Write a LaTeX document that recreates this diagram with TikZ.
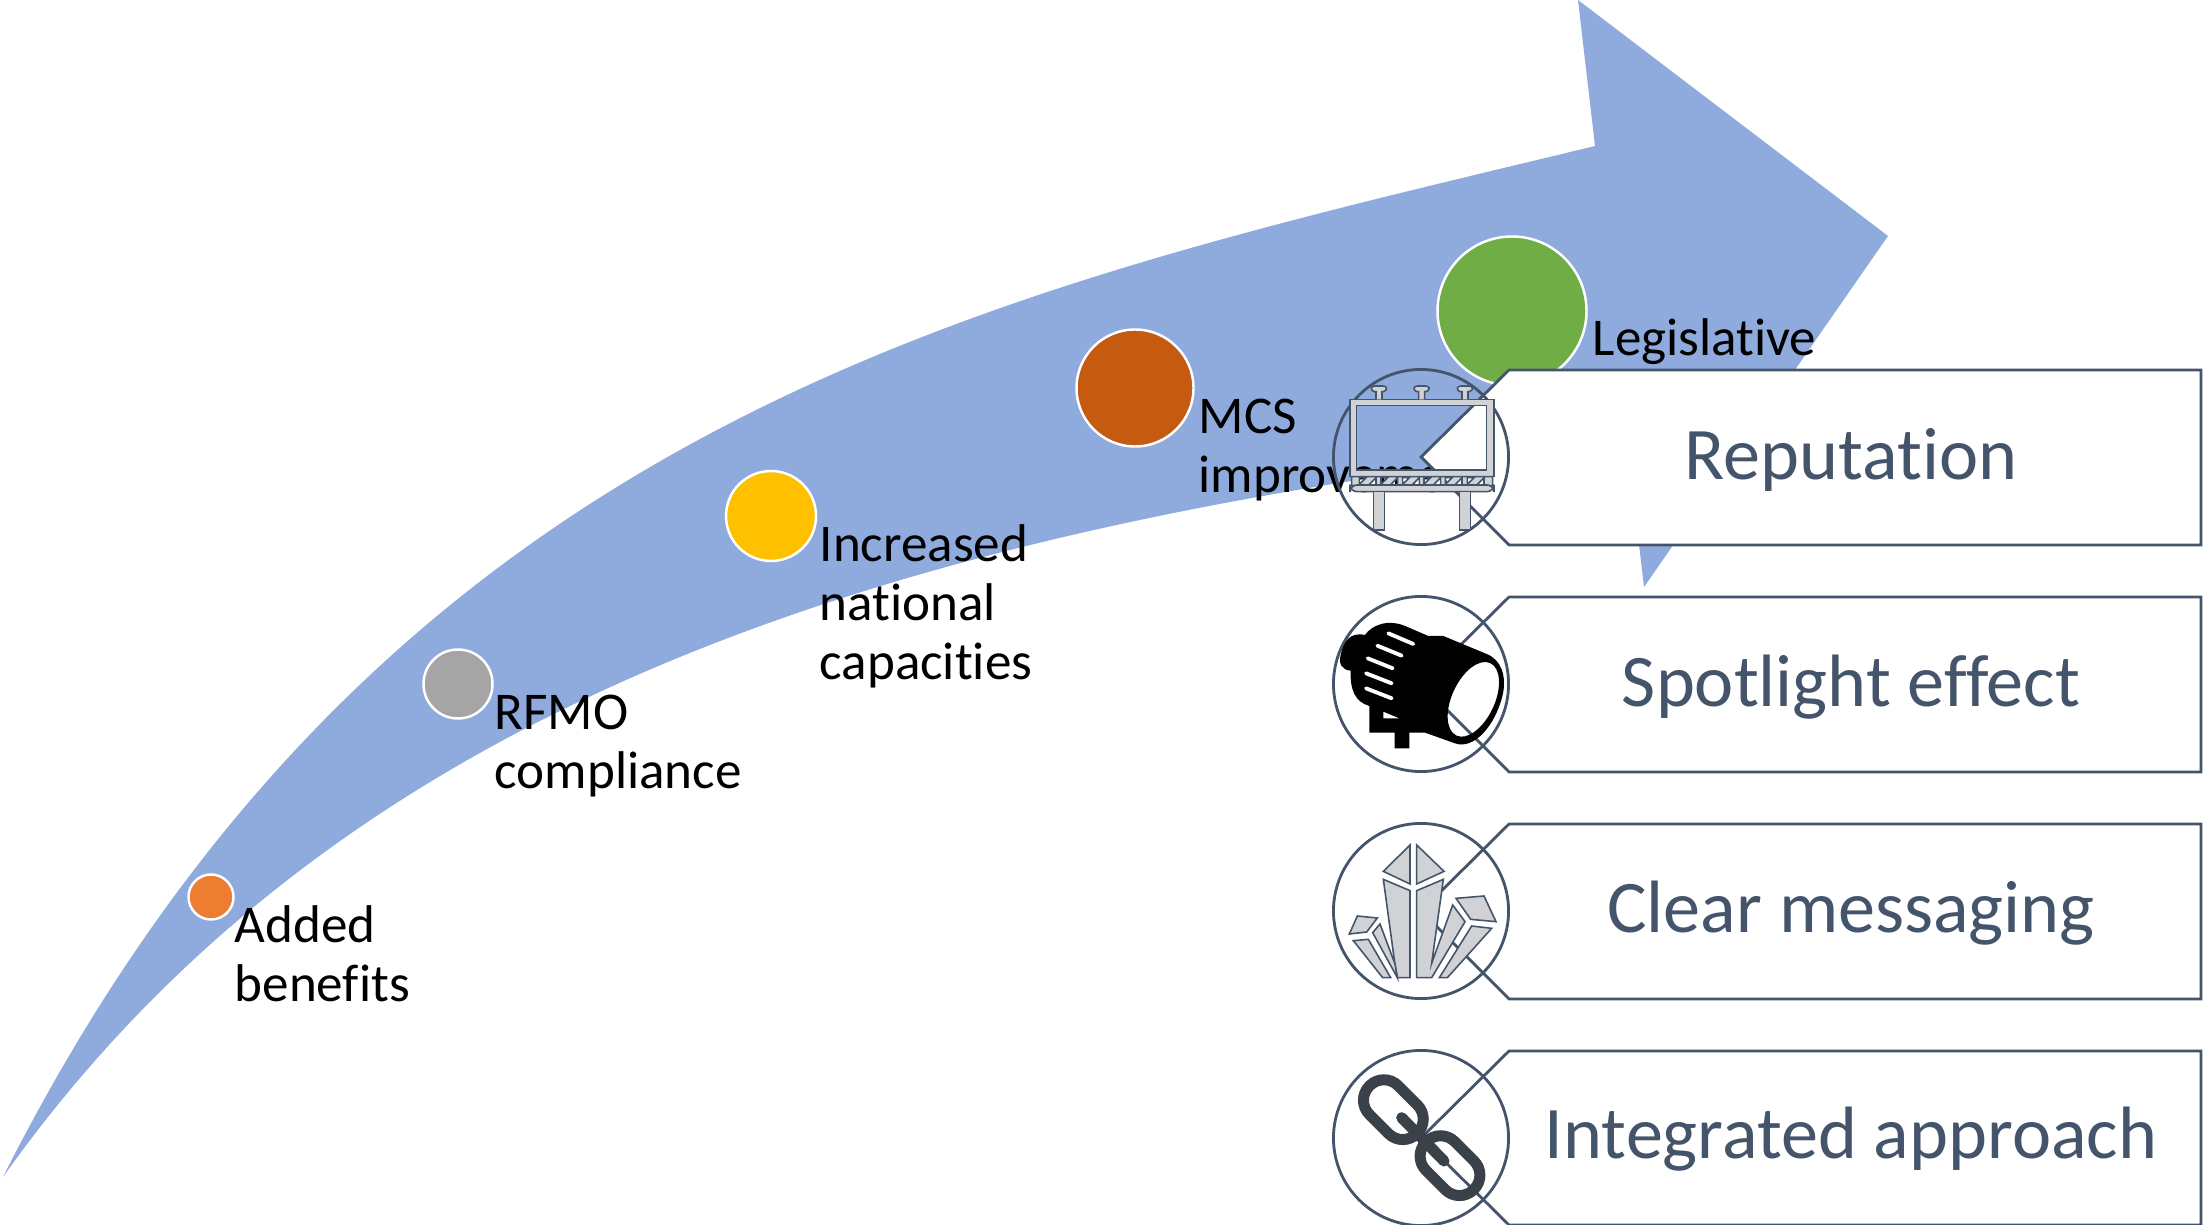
\documentclass[tikz,border=0pt]{standalone}
\usepackage{fontspec}
\setmainfont[Ligatures=CommonOff]{Carlito}
\definecolor{arrowblue}{HTML}{8FAADC}
\definecolor{slate}{HTML}{44546A}
\definecolor{iconfill}{HTML}{D0D2D6}
\definecolor{linkdark}{HTML}{3B4149}
\definecolor{dotorange}{HTML}{ED7D31}
\definecolor{dotgray}{HTML}{A5A5A5}
\definecolor{dotyellow}{HTML}{FFC000}
\definecolor{dotrust}{HTML}{C55A11}
\definecolor{dotgreen}{HTML}{70AD47}
\tikzset{
  dot/.style={circle, draw=white, line width=0.7pt, minimum size=#1*0.01cm, inner sep=0pt},
  steplabel/.style={align=left, anchor=north west, font=\fontsize{15.1}{16.8}\selectfont, inner sep=0pt},
  callout/.style={draw=slate, fill=white, line width=0.8pt, line join=miter},
  ring/.style={circle, draw=slate, line width=0.8pt, minimum size=1.75cm, inner sep=0pt},
  calloutlabel/.style={text=slate, font=\fontsize{21.1}{25}\selectfont},
  iconpart/.style={draw=slate, fill=iconfill, line width=0.45pt},
  iconarea/.style={x=0.01cm/3, y=-0.01cm/3},
}
\begin{document}
\begin{tikzpicture}[x=0.01cm, y=-0.01cm]
\useasboundingbox (0,0) rectangle (2203,1225);
\fill[arrowblue]
     (3,1177)
  .. controls (390,410) and (1000,290) .. (1595,146)
  -- (1578,0)
  -- (1888,236)
  -- (1644,587)
  -- (1627,443)
  .. controls (980,520) and (370,660) .. (3,1177)
  -- cycle;

\node[dot=45, fill=dotorange] (added) at (211,897) {};
\node[dot=69, fill=dotgray] (rfmo) at (458,684) {};
\node[dot=90, fill=dotyellow] (capacity) at (771,516) {};
\node[dot=117, fill=dotrust] (mcs) at (1135,388) {};
\node[dot=149, fill=dotgreen] (legal) at (1512,311) {};

\node[steplabel] (addedtext) at (234,905) {Added\\benefits};
\node[steplabel] (rfmotext) at (494,694) {RFMO\\compliance};
\node[steplabel] (capacitytext) at (819,524) {Increased\\national\\capacities};
\node[steplabel] (mcstext) at (1198,398) {MCS\\improvements};
\node[steplabel] (legaltext) at (1592,318) {Legislative};

\draw[callout] (1421,457) -- ++(88,-87) -- ++(692,0) -- ++(0,175) -- ++(-692,0) -- cycle;
\draw[callout] (1421,684) -- ++(88,-87) -- ++(692,0) -- ++(0,175) -- ++(-692,0) -- cycle;
\draw[callout] (1421,911) -- ++(88,-87) -- ++(692,0) -- ++(0,175) -- ++(-692,0) -- cycle;
\draw[callout] (1421,1138) -- ++(88,-87) -- ++(692,0) -- ++(0,174) -- ++(-692,0) -- cycle;

\node[calloutlabel] (reputation) at (1851,460) {Reputation};
\node[calloutlabel] (spotlight) at (1851,687) {Spotlight effect};
\node[calloutlabel] (messaging) at (1851,913) {Clear messaging};
\node[calloutlabel] (approach) at (1851,1139) {Integrated approach};

\node[ring] (ringa) at (1421,457) {};
\node[ring] (ringb) at (1421,684) {};
\node[ring] (ringc) at (1421,911) {};
\node[ring] (ringd) at (1421,1138) {};

% billboard
\begin{scope}[shift={(1300,340)}, iconarea]
\filldraw[iconpart, even odd rule]
  (150,178) rectangle (582,410) (170,197) rectangle (560,390);
\filldraw[iconpart]
  (228,178) -- (228,155) -- (222,155) .. controls (210,150) and (212,138) .. (225,138)
  -- (248,138) .. controls (262,138) and (264,150) .. (250,155) -- (246,155) -- (246,178);
\filldraw[iconpart]
  (356,178) -- (356,155) -- (350,155) .. controls (338,150) and (340,138) .. (353,138)
  -- (376,138) .. controls (390,138) and (392,150) .. (378,155) -- (374,155) -- (374,178);
\filldraw[iconpart]
  (486,178) -- (486,155) -- (480,155) .. controls (468,150) and (470,138) .. (483,138)
  -- (506,138) .. controls (520,138) and (522,150) .. (508,155) -- (504,155) -- (504,178);
\filldraw[iconpart, even odd rule]
  (155,410) rectangle (578,437)
  \foreach \tx in {178,243,308,372,436,502} {
    (\tx,413) -- ++(20,0) -- ++(-20,20) -- cycle
    (\tx+50,413) -- ++(0,22) -- ++(-22,0) -- cycle
  };
\filldraw[iconpart, rounded corners=2pt] (150,435) rectangle (582,455);
\filldraw[iconpart] (220,455) rectangle (254,570);
\filldraw[iconpart] (478,455) rectangle (512,570);
\end{scope}

% spotlight
\begin{scope}[shift={(1300,580)}, iconarea]
\fill[black, even odd rule]
  (195,165) .. controls (215,135) and (265,115) .. (320,140)
  -- (385,168) -- (430,168) -- (560,222)
  .. controls (605,240) and (620,290) .. (608,345)
  .. controls (585,440) and (520,510) .. (465,490)
  -- (375,458) -- (328,458) -- (328,505) -- (284,505) -- (284,458) -- (208,458) -- (208,378)
  .. controls (165,365) and (150,330) .. (152,272)
  .. controls (125,270) and (115,250) .. (122,225)
  .. controls (130,185) and (150,155) .. (195,165) -- cycle
  (520,358) ellipse [x radius=64, y radius=120, rotate=-25]
  (250,395) -- (250,415) -- (298,415) -- cycle;
\draw[white, line width=1.1pt, line cap=round] (265,160) -- (340,192);
\draw[white, line width=1.1pt, line cap=round] (232,197) -- (305,227);
\draw[white, line width=1.1pt, line cap=round] (203,235) -- (278,265);
\draw[white, line width=1.1pt, line cap=round] (198,280) -- (275,310);
\draw[white, line width=1.1pt, line cap=round] (198,325) -- (275,355);
\end{scope}

% crystals
\begin{scope}[shift={(1300,810)}, iconarea]
\filldraw[iconpart] (330,105) -- (330,222) -- (250,184) -- cycle;
\filldraw[iconpart] (350,105) -- (350,222) -- (432,184) -- cycle;
\filldraw[iconpart] (250,208) -- (330,242) -- (330,503) -- (292,503) -- (285,465) -- cycle;
\filldraw[iconpart] (350,242) -- (430,208) -- (395,460) -- (458,285) -- (495,335) -- (395,503) -- (350,503) -- cycle;
\filldraw[iconpart] (218,368) -- (240,342) -- (285,462) -- (292,503) -- cycle;
\filldraw[iconpart] (160,392) -- (205,388) -- (272,503) -- (248,503) -- cycle;
\filldraw[iconpart] (148,372) -- (172,318) -- (232,324) -- (200,366) -- cycle;
\filldraw[iconpart] (468,265) -- (552,258) -- (588,335) -- (512,328) -- cycle;
\filldraw[iconpart] (515,348) -- (575,355) -- (442,503) -- (418,503) -- cycle;
\end{scope}

% chain
\begin{scope}[shift={(1300,1035)}, iconarea]
\draw[linkdark, line width=0.11cm, rounded corners=0.2cm, rotate around={-45:(280,224)}]
  (179,163) rectangle (381,285);
\draw[linkdark, line width=0.11cm, rounded corners=0.2cm, rotate around={-45:(450,392)}]
  (349,331) rectangle (551,453);
\draw[linkdark, line width=0.11cm, line cap=round] (305,248) -- (432,378);
\end{scope}
\end{tikzpicture}
\end{document}
